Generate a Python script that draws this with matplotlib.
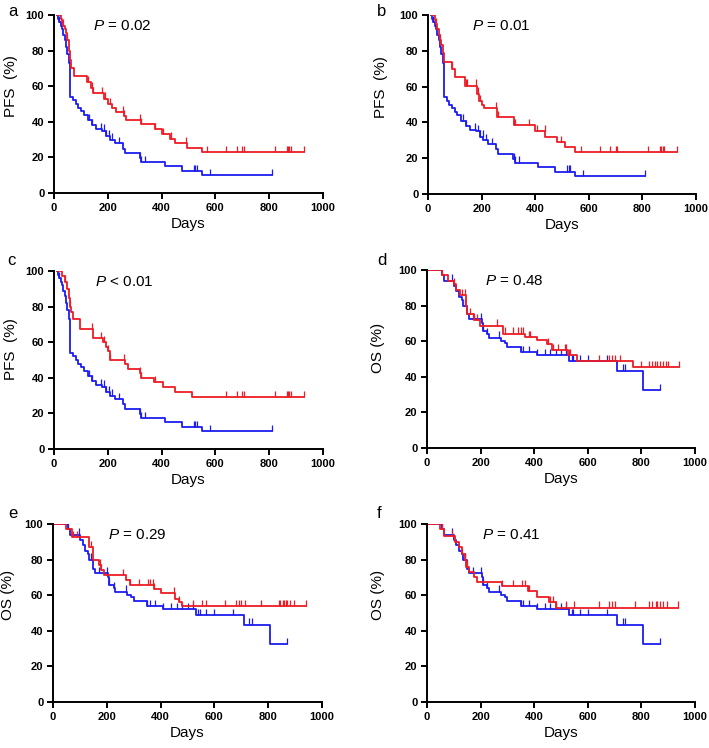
import numpy as np
import matplotlib
matplotlib.use('Agg')
from matplotlib import pyplot as plt

plt.rcParams['font.family'] = ['Liberation Sans', 'DejaVu Sans']
plt.rcParams['mathtext.fontset'] = 'custom'
plt.rcParams['mathtext.it'] = 'Liberation Sans:italic'
plt.rcParams['mathtext.rm'] = 'Liberation Sans'

# 数据
# PFS 蓝线 (a, b, c 共用)
pfs_blue_t = [10, 15, 20, 25, 30, 35, 40, 45, 50, 55, 60, 70, 80, 90, 100, 110, 125, 140, 155, 180,
              195, 207, 225, 255, 263, 318, 325, 412, 475, 550, 810]
pfs_blue_s = [100, 98, 96, 94, 92, 89, 86, 82, 78, 73, 54, 52, 50, 48, 46, 44, 41, 38, 36, 35,
              32, 30, 28, 25, 22.5, 19.5, 17.5, 15, 12.5, 10, 10]
pfs_blue_cens = [20, 130, 140, 175, 185, 195, 205, 215, 240, 320, 325, 340, 520, 525, 530, 580, 810]

# a 红线
a_red_t = [15, 25, 30, 35, 40, 45, 50, 55, 60, 65, 75, 123, 139, 145, 185, 200, 215, 230, 260, 268,
           322, 375, 400, 430, 450, 495, 550, 930]
a_red_s = [100, 98, 96, 94, 92, 90, 86, 80, 75, 70, 66, 62.5, 59, 56, 53, 50, 48, 45.5, 43, 41,
           38.5, 36, 33, 30.5, 28, 25.5, 23, 23]
a_red_cens = [35, 50, 125, 140, 145, 180, 190, 210, 255, 262, 320, 325, 375, 405, 435, 490, 570,
              640, 680, 700, 705, 820, 865, 870, 875, 880, 930]

# b 红线
b_red_t = [15, 25, 30, 35, 40, 45, 50, 55, 58, 90, 100, 139, 183, 189, 201, 208, 257, 320, 400,
           438, 481, 512, 550, 930]
b_red_s = [100, 97, 95, 92, 89, 86, 83, 79, 74, 70, 65.5, 60.5, 56, 52, 50, 48, 43, 38.5, 35,
           32, 29, 26, 23.5, 23.5]
b_red_cens = [30, 45, 90, 140, 145, 180, 185, 195, 255, 260, 320, 325, 375, 405, 435, 495, 570,
              640, 680, 700, 705, 820, 865, 870, 875, 880, 930]

# c 红线
c_red_t = [15, 30, 40, 50, 55, 60, 65, 70, 96, 145, 183, 195, 200, 208, 263, 276, 320, 325, 370,
           406, 450, 512, 930]
c_red_s = [100, 97, 94, 90, 85, 80, 77, 73, 67.5, 62.5, 60, 57.5, 55, 50, 47.5, 45, 42.5, 40, 37.5,
           35, 32, 29, 29]
c_red_cens = [40, 60, 140, 175, 185, 200, 210, 260, 320, 325, 375, 640, 680, 700, 705, 820, 865,
              870, 875, 880, 930]

# OS 蓝线 (d, e, f 共用)
os_blue_t = [0, 55, 65, 100, 110, 120, 130, 135, 150, 155, 205, 210, 225, 230, 275, 290, 300, 350,
             410, 530, 710, 805, 870]
os_blue_s = [100, 97, 94, 91, 88, 85, 83, 80, 75, 72.5, 70, 66, 64, 62, 60, 59, 57, 54,
             52, 49, 43.5, 32.5, 32.5]
os_blue_cens = [55, 95, 140, 170, 200, 210, 225, 270, 350, 360, 380, 410, 440, 460, 480, 500, 520,
                540, 545, 570, 600, 670, 730, 740, 870]

# d 红线
d_red_t = [0, 55, 80, 100, 110, 125, 145, 150, 175, 198, 285, 366, 409, 447, 465, 527, 558, 770, 940]
d_red_s = [100, 97, 94, 92, 89, 86, 80, 75, 72, 68.7, 64.2, 62.5, 60.6, 58.4, 55, 52, 49, 45.5, 45.5]
d_red_cens = [100, 130, 140, 160, 175, 185, 260, 290, 320, 340, 350, 360, 380, 385, 450, 470, 490,
              515, 520, 530, 535, 640, 680, 690, 700, 720, 800, 830, 840, 850, 860, 870, 880, 890,
              900, 940]

# e 红线
e_red_t = [0, 50, 70, 135, 150, 170, 180, 190, 270, 285, 375, 400, 455, 470, 480, 940]
e_red_s = [100, 97, 92.5, 87, 80, 77, 74, 71.5, 68.5, 65.5, 63.5, 61, 58, 56, 54, 54]
e_red_cens = [75, 90, 140, 175, 180, 260, 285, 320, 355, 360, 370, 375, 450, 470, 520, 555, 570,
              640, 680, 690, 700, 715, 775, 840, 845, 855, 860, 865, 870, 880, 895, 940]

# f 红线
f_red_t = [0, 50, 65, 105, 120, 130, 140, 145, 155, 175, 185, 280, 375, 410, 455, 480, 935]
f_red_s = [100, 97, 93, 90, 87, 83, 80, 76, 73, 70.5, 67.5, 65, 62.5, 59, 56, 53, 53]
f_red_cens = [55, 95, 130, 140, 145, 150, 280, 320, 355, 365, 375, 380, 460, 470, 480, 520, 550,
              640, 680, 690, 700, 775, 830, 840, 855, 860, 870, 880, 895, 935]

letters = ['a', 'b', 'c', 'd', 'e', 'f']
ylabels = ['PFS  (%)', 'PFS  (%)', 'PFS  (%)', 'OS (%)', 'OS (%)', 'OS (%)']
pvals = ['= 0.02', '= 0.01', '< 0.01', '= 0.48', '= 0.29', '= 0.41']
red_t = [a_red_t, b_red_t, c_red_t, d_red_t, e_red_t, f_red_t]
red_s = [a_red_s, b_red_s, c_red_s, d_red_s, e_red_s, f_red_s]
red_cens = [a_red_cens, b_red_cens, c_red_cens, d_red_cens, e_red_cens, f_red_cens]

RED = '#ee1c24'
BLUE = '#1c1cf0'


def surv_at(t, s, x):
    idx = np.searchsorted(np.array(t), np.array(x), side='right') - 1
    idx = np.clip(idx, 0, len(s) - 1)
    return np.array(s)[idx]


def km(ax, t, s, cens, color):
    ax.step(t, s, where='post', color=color, lw=1.3)
    y = surv_at(t, s, cens)
    ax.vlines(cens, y, y + 3.5, color=color, lw=0.9)


fig = plt.figure(figsize=(7.09, 7.48), dpi=100)
W, H = 709, 748
boxes = [(54, 15, 269, 178), (428, 15, 268, 179),
         (54, 271, 269, 178), (427, 270, 268, 178),
         (53, 524, 269, 178), (427, 524, 268, 178)]
ptext_x = [145, 164, 152, 216, 204, 205]
ylab_x = [-0.135, -0.148, -0.135, -0.157, -0.14, -0.157]
ylab_y = [0.6, 0.6, 0.56, 0.56, 0.6, 0.6]
letter_pos = [(8, 12), (377, 12), (7, 260), (377, 260), (8, 513), (377, 513)]

for i in range(6):
    l, t, w, h = boxes[i]
    ax = fig.add_axes([l / W, 1 - (t + h) / H, w / W, h / H])
    if i < 3:
        km(ax, pfs_blue_t, pfs_blue_s, pfs_blue_cens, BLUE)
    else:
        km(ax, os_blue_t, os_blue_s, os_blue_cens, BLUE)
    km(ax, red_t[i], red_s[i], red_cens[i], RED)

    ax.set_xlim(0, 1000)
    ax.set_ylim(0, 100)
    ax.set_xticks(range(0, 1001, 200))
    ax.set_yticks(range(0, 101, 20))
    for side in ['top', 'right']:
        ax.spines[side].set_visible(False)
    for side in ['left', 'bottom']:
        ax.spines[side].set_linewidth(1.4)
    ax.tick_params(direction='out', length=4, width=1.4, labelsize=8, pad=3)
    for lab in ax.get_xticklabels() + ax.get_yticklabels():
        lab.set_fontweight('bold')
    ax.set_xlabel('Days', fontsize=11, labelpad=3)
    ax.set_ylabel(ylabels[i], fontsize=11)
    ax.yaxis.set_label_coords(ylab_x[i], ylab_y[i])
    ax.text(ptext_x[i], 94, r'$\it{P}$ ' + pvals[i], fontsize=11, va='center')
    fig.text(letter_pos[i][0] / W, 1 - letter_pos[i][1] / H, letters[i], fontsize=12,
             va='center', ha='left')

plt.savefig('out.png', dpi=100)
